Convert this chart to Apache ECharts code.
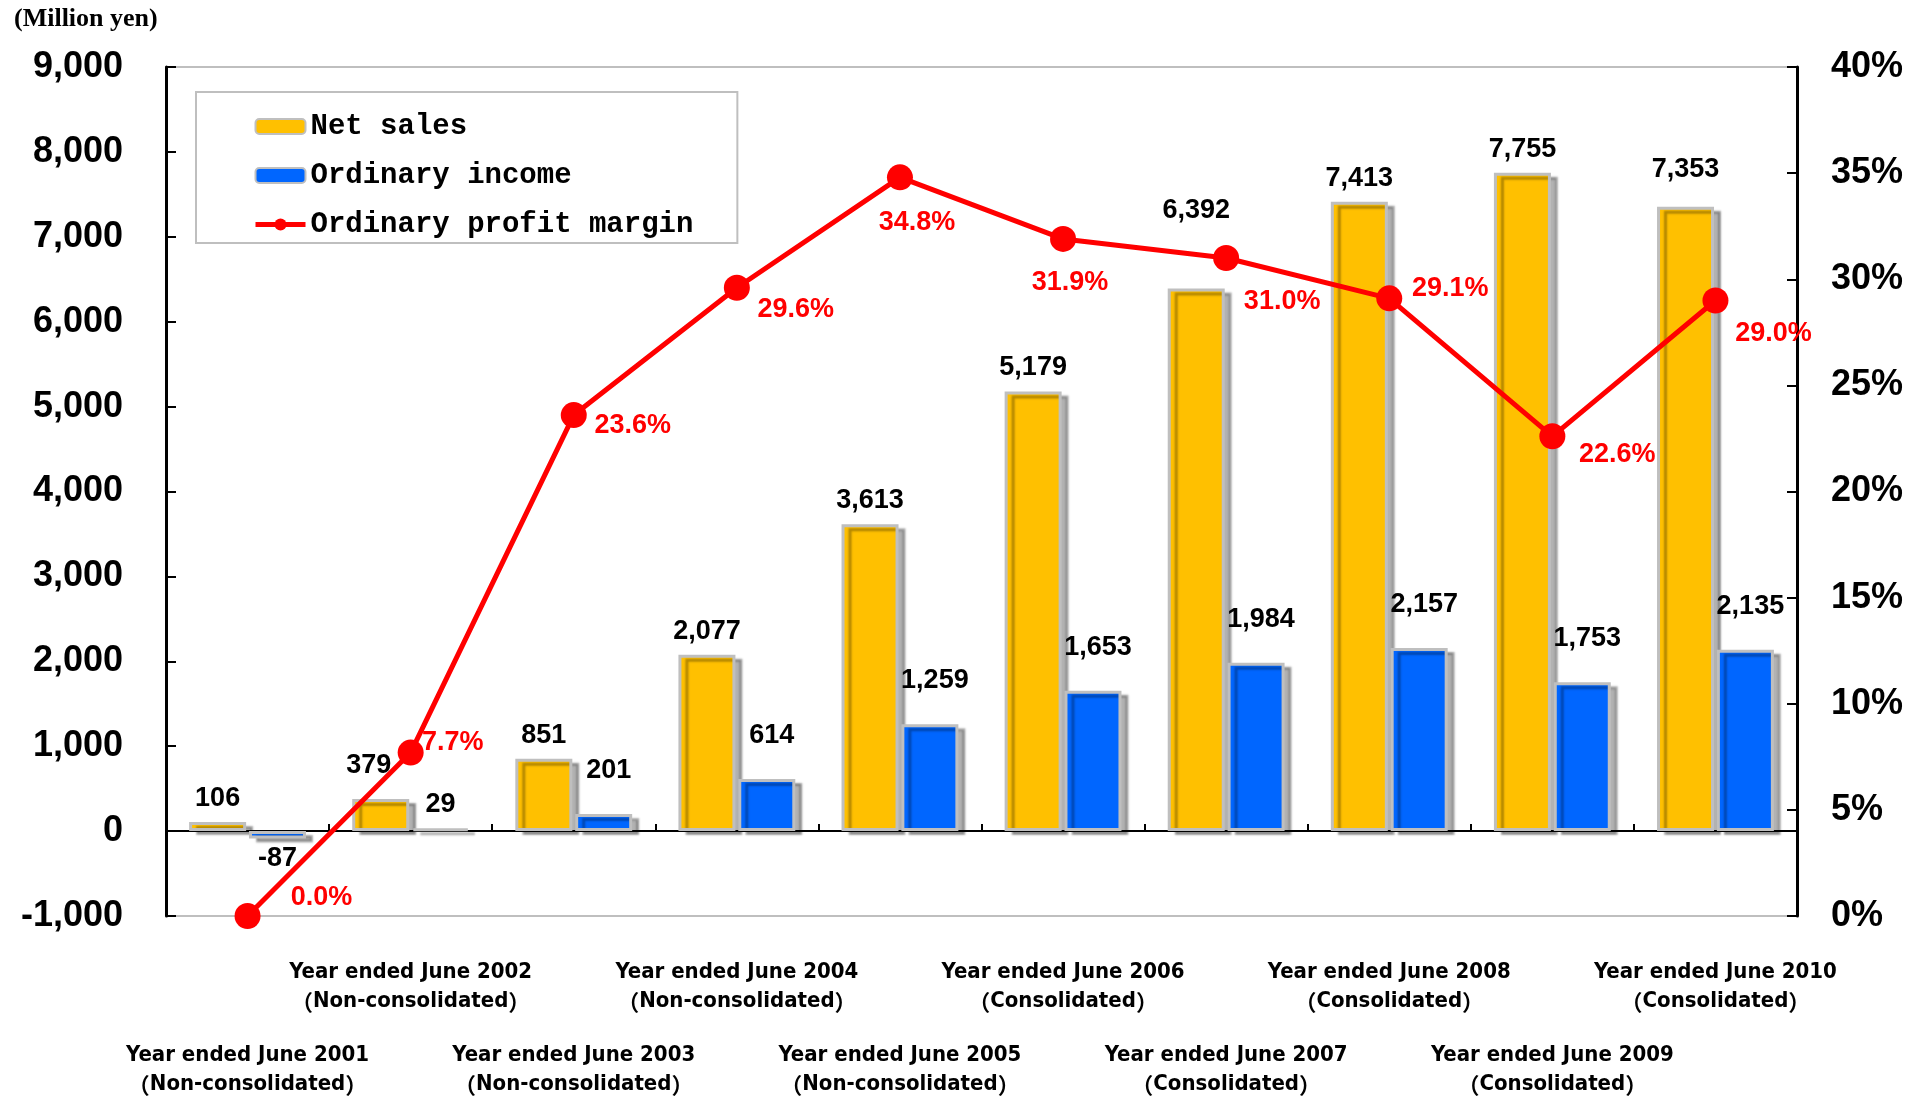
<!DOCTYPE html>
<html><head><meta charset="utf-8">
<script src="https://cdn.jsdelivr.net/npm/echarts@6/dist/echarts.min.js"></script>
<style>html,body{margin:0;padding:0;background:#fff}#c{width:1923px;height:1099px}</style>
</head><body><div id="c"></div>
<script>
// ---- data ----
const years = ['2001','2002','2003','2004','2005','2006','2007','2008','2009','2010'];
const basis = ['Non-consolidated','Non-consolidated','Non-consolidated','Non-consolidated','Non-consolidated',
               'Consolidated','Consolidated','Consolidated','Consolidated','Consolidated'];
const netSales = [106, 379, 851, 2077, 3613, 5179, 6392, 7413, 7755, 7353];
const ordinaryIncome = [-87, 29, 201, 614, 1259, 1653, 1984, 2157, 1753, 2135];
const profitMargin = [0.0, 7.7, 23.6, 29.6, 34.8, 31.9, 31.0, 29.1, 22.6, 29.0];
const leftAxis = {min: -1000, max: 9000, interval: 1000};
const rightAxis = {min: 0, max: 40, interval: 5};

// ---- label placement tweaks (layout only) ----
const marginLabelOffsets = [[74,-18],[42,-10],[59,10],[59,22],[17,45],[7,44],[56,44],[61,-10],[65,18],[58,33]];
const salesLabelTweaks = {1: {distance: 20, offset: [-12, 0]}, 6: {distance: 64}, 9: {distance: 24}};
const incomeLabelTweaks = {0: {position: 'bottom', distance: 7, offset: [0, 0]}, 1: {position: 'top', distance: 10, offset: [0, 0]}};

const categories = years.map((y, i) => 'Year ended June ' + y + '\n' + basis[i]);
const fmt = v => Number(v).toLocaleString('en-US');

const barBase = {type: 'bar', barWidth: 57, barGap: '5%', xAxisIndex: 0, yAxisIndex: 0};
const shadow = {borderColor: '#BFBFBF', borderWidth: 3, shadowColor: 'rgba(0,0,0,0.3)', shadowOffsetX: 7, shadowOffsetY: 4, shadowBlur: 2};
const dataLabelFont = {fontFamily: 'Liberation Sans, Arial, sans-serif', fontWeight: 'bold', fontSize: 27, color: '#000'};
const catFont = '"DejaVu Sans Condensed", "Noto Sans CJK JP", sans-serif';

const chart = echarts.init(document.getElementById('c'));
chart.setOption({
  animation: false,
  backgroundColor: '#fff',
  grid: {left: 166, right: 126, top: 67, bottom: 183, show: true, borderColor: '#BFBFBF', borderWidth: 2, containLabel: false},
  legend: {
    orient: 'vertical', left: 196, top: 92,
    padding: [20, 44, 4, 57], itemGap: 20, itemWidth: 50, itemHeight: 15,
    borderColor: '#BFBFBF', borderWidth: 2, backgroundColor: '#fff',
    lineStyle: {width: 5},
    textStyle: {fontFamily: 'Liberation Mono, DejaVu Sans Mono, monospace', fontWeight: 'bold', fontSize: 29, color: '#000'},
    data: ['Net sales', 'Ordinary income', 'Ordinary profit margin']
  },
  graphic: [{
    type: 'text', left: 14, top: 6,
    style: {text: '(Million yen)', font: 'bold 26px "Liberation Serif", "Times New Roman", serif', fill: '#000'}
  }],
  xAxis: [{
    type: 'category', data: categories, position: 'bottom',
    axisLine: {show: false, onZero: false}, axisTick: {show: false},
    axisLabel: {
      interval: 0, margin: 42,
      formatter: (v, i) => {
        const parts = v.split('\n');
        const body = '{a|' + parts[0] + '}\n{p|（}{a|' + parts[1] + '}{p|）}';
        return i % 2 === 0 ? '{g| }\n' + body : body;
      },
      rich: {
        a: {fontFamily: catFont, fontWeight: 'bold', fontSize: 22, lineHeight: 29, color: '#000'},
        p: {fontFamily: '"Noto Sans CJK JP", sans-serif', fontWeight: 'bold', fontSize: 22, lineHeight: 29, color: '#000'},
        g: {fontSize: 10, lineHeight: 83}
      }
    }
  }, {
    type: 'category', data: categories, position: 'bottom',
    axisLine: {show: true, onZero: true, onZeroAxisIndex: 0, lineStyle: {color: '#000', width: 2}},
    axisTick: {show: true, inside: true, length: 7, lineStyle: {color: '#000', width: 2}},
    axisLabel: {show: false}
  }],
  yAxis: [{
    type: 'value', position: 'left', min: leftAxis.min, max: leftAxis.max, interval: leftAxis.interval,
    axisLine: {show: true, lineStyle: {color: '#000', width: 3}},
    axisTick: {show: true, inside: true, length: 10, lineStyle: {color: '#000', width: 2}},
    splitLine: {show: false},
    axisLabel: {margin: 43, formatter: v => fmt(v), fontFamily: 'Liberation Sans, Arial, sans-serif', fontWeight: 'bold', fontSize: 36, color: '#000'}
  }, {
    type: 'value', position: 'right', min: rightAxis.min, max: rightAxis.max, interval: rightAxis.interval,
    axisLine: {show: true, lineStyle: {color: '#000', width: 3}},
    axisTick: {show: true, inside: true, length: 10, lineStyle: {color: '#000', width: 2}},
    splitLine: {show: false},
    axisLabel: {margin: 34, formatter: v => v + '%', fontFamily: 'Liberation Sans, Arial, sans-serif', fontWeight: 'bold', fontSize: 36, color: '#000'}
  }],
  series: [
    Object.assign({}, barBase, {
      name: 'Net sales',
      itemStyle: Object.assign({color: '#FFC000'}, shadow),
      label: Object.assign({show: true, position: 'top', distance: 10, formatter: p => fmt(p.value)}, dataLabelFont),
      data: netSales.map((v, i) => salesLabelTweaks[i] ? {value: v, label: salesLabelTweaks[i]} : v)
    }),
    Object.assign({}, barBase, {
      name: 'Ordinary income',
      itemStyle: Object.assign({color: '#0066FF'}, shadow),
      label: Object.assign({show: true, position: 'top', distance: 30, offset: [5, 0], formatter: p => fmt(p.value)}, dataLabelFont),
      data: ordinaryIncome.map((v, i) => incomeLabelTweaks[i] ? {value: v, label: incomeLabelTweaks[i]} : v)
    }),
    {
      name: 'Ordinary profit margin', type: 'line', xAxisIndex: 0, yAxisIndex: 1, z: 5,
      lineStyle: {color: '#FF0000', width: 5},
      itemStyle: {color: '#FF0000'},
      symbol: 'circle', symbolSize: 26,
      label: {show: true, position: 'inside', formatter: p => p.value.toFixed(1) + '%',
              fontFamily: 'Liberation Sans, Arial, sans-serif', fontWeight: 'bold', fontSize: 27, color: '#FF0000'},
      data: profitMargin.map((v, i) => ({value: v, label: {offset: marginLabelOffsets[i]}}))
    }
  ]
});
</script>
</body></html>
